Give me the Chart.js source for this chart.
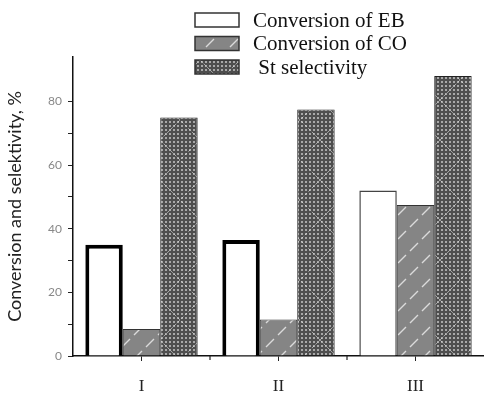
<!DOCTYPE html>
<html>
<head>
<meta charset="utf-8">
<script src="https://cdn.jsdelivr.net/npm/chart.js@4/dist/chart.umd.min.js"></script>
<style>
  html, body { margin: 0; padding: 0; background: #fff; }
  #wrap { width: 484px; height: 394px; }
</style>
</head>
<body>
<div id="wrap"><canvas id="chart" width="484" height="394"></canvas></div>
<script>
// Catalyst samples and measured values, %
const samples = ['I', 'II', 'III'];
const conversionEB = [35, 36.5, 52];
const conversionCO = [8.5, 11.5, 47.5];
const stSelectivity = [75, 77.5, 88];
const seriesNames = ['Conversion of EB', 'Conversion of CO', ' St selectivity'];
const yTicks = [0, 20, 40, 60, 80];

// Hatched fill: grey with light slanted dashes
function dashPattern() {
  const c = document.createElement('canvas');
  c.width = 24; c.height = 24;
  const g = c.getContext('2d');
  g.fillStyle = '#858585';
  g.fillRect(0, 0, 24, 24);
  g.strokeStyle = 'rgba(240,240,240,0.8)';
  g.lineWidth = 1.4;
  g.beginPath();
  g.moveTo(2, 11); g.lineTo(10, 3);
  g.moveTo(14, 23); g.lineTo(22, 15);
  g.stroke();
  return g.createPattern(c, 'repeat');
}

// Dotted fill: light cells on a dark grid, with faint diamond lines
function dotPattern() {
  const c = document.createElement('canvas');
  c.width = 40; c.height = 40;
  const g = c.getContext('2d');
  g.fillStyle = '#4e4e4e';
  g.fillRect(0, 0, 40, 40);
  g.fillStyle = '#a8a8a8';
  for (let x = 0; x < 40; x += 4) {
    for (let y = 0; y < 40; y += 4) {
      g.fillRect(x + 1, y + 1, 2, 2);
    }
  }
  g.strokeStyle = 'rgba(235,235,235,0.55)';
  g.lineWidth = 1;
  g.setLineDash([3, 2]);
  g.beginPath();
  g.moveTo(0, 20); g.lineTo(20, 0); g.lineTo(40, 20); g.lineTo(20, 40); g.closePath();
  g.stroke();
  return g.createPattern(c, 'repeat');
}

// Vertical legend in the upper right
const legendPlugin = {
  id: 'boxLegend',
  afterDraw(chart) {
    const ctx = chart.ctx;
    const x0 = 195, y0 = 13, w = 44, h = 14, gap = 23.5;
    ctx.save();
    chart.data.datasets.forEach((ds, i) => {
      const y = y0 + i * gap;
      ctx.fillStyle = ds.backgroundColor;
      ctx.fillRect(x0, y, w, h);
      ctx.strokeStyle = '#333';
      ctx.lineWidth = 1.5;
      ctx.strokeRect(x0, y, w, h);
      ctx.fillStyle = '#111';
      ctx.font = '21px "Liberation Serif", serif';
      ctx.textBaseline = 'middle';
      ctx.textAlign = 'left';
      ctx.fillText(ds.label, 253, y + h / 2 + 1);
    });
    ctx.restore();
  }
};

// Small tick marks between the sample groups
const betweenTicks = {
  id: 'betweenTicks',
  afterDraw(chart) {
    const xs = chart.scales.x;
    const ctx = chart.ctx;
    const y = chart.chartArea.bottom;
    ctx.save();
    ctx.strokeStyle = '#222';
    ctx.lineWidth = 1.2;
    for (let i = 0; i < samples.length - 1; i++) {
      const px = (xs.getPixelForValue(i) + xs.getPixelForValue(i + 1)) / 2;
      ctx.beginPath();
      ctx.moveTo(px, y);
      ctx.lineTo(px, y + 4);
      ctx.stroke();
    }
    ctx.restore();
  }
};

new Chart(document.getElementById('chart'), {
  type: 'bar',
  data: {
    labels: samples,
    datasets: [
      {
        label: seriesNames[0],
        data: conversionEB,
        backgroundColor: '#ffffff',
        borderColor: ['#000', '#000', '#444'],
        borderWidth: [4, 4, 1.5]
      },
      {
        label: seriesNames[1],
        data: conversionCO,
        backgroundColor: dashPattern(),
        borderColor: '#333',
        borderWidth: 1
      },
      {
        label: seriesNames[2],
        data: stSelectivity,
        backgroundColor: dotPattern(),
        borderColor: '#222',
        borderWidth: 1
      }
    ]
  },
  options: {
    responsive: false,
    animation: false,
    layout: { padding: { top: 57, left: 0, right: 0, bottom: 0 } },
    datasets: {
      bar: { categoryPercentage: 0.82, barPercentage: 1.0 }
    },
    plugins: {
      legend: { display: false },
      tooltip: { enabled: false },
      title: { display: false }
    },
    scales: {
      x: {
        offset: true,
        border: { display: true, color: '#111', width: 1.5 },
        grid: {
          display: true,
          offset: false,
          drawOnChartArea: false,
          drawTicks: true,
          tickLength: 5,
          color: '#222'
        },
        ticks: {
          color: '#222',
          padding: 15,
          font: { family: '"Liberation Serif", serif', size: 17 }
        },
        afterFit(scale) { scale.height = 38; }
      },
      y: {
        min: 0,
        max: 94,
        border: { display: true, color: '#111', width: 1.5 },
        grid: {
          display: true,
          drawOnChartArea: false,
          drawTicks: true,
          tickLength: 5,
          color: '#222'
        },
        ticks: {
          stepSize: 10,
          color: '#888',
          padding: 6,
          font: { family: 'Lato, "Open Sans", sans-serif', size: 12 },
          callback: v => (yTicks.includes(v) ? String(v) : '')
        },
        afterBuildTicks(scale) {
          scale.ticks = scale.ticks.filter(t => t.value % 10 === 0);
        },
        title: {
          display: true,
          text: 'Conversion and selektivity, %',
          color: '#222',
          padding: { top: 4, bottom: 0 },
          font: { family: 'Lato, "Open Sans", sans-serif', size: 18 }
        },
        afterFit(scale) { scale.width = 73; }
      }
    }
  },
  plugins: [legendPlugin, betweenTicks]
});
</script>
</body>
</html>
